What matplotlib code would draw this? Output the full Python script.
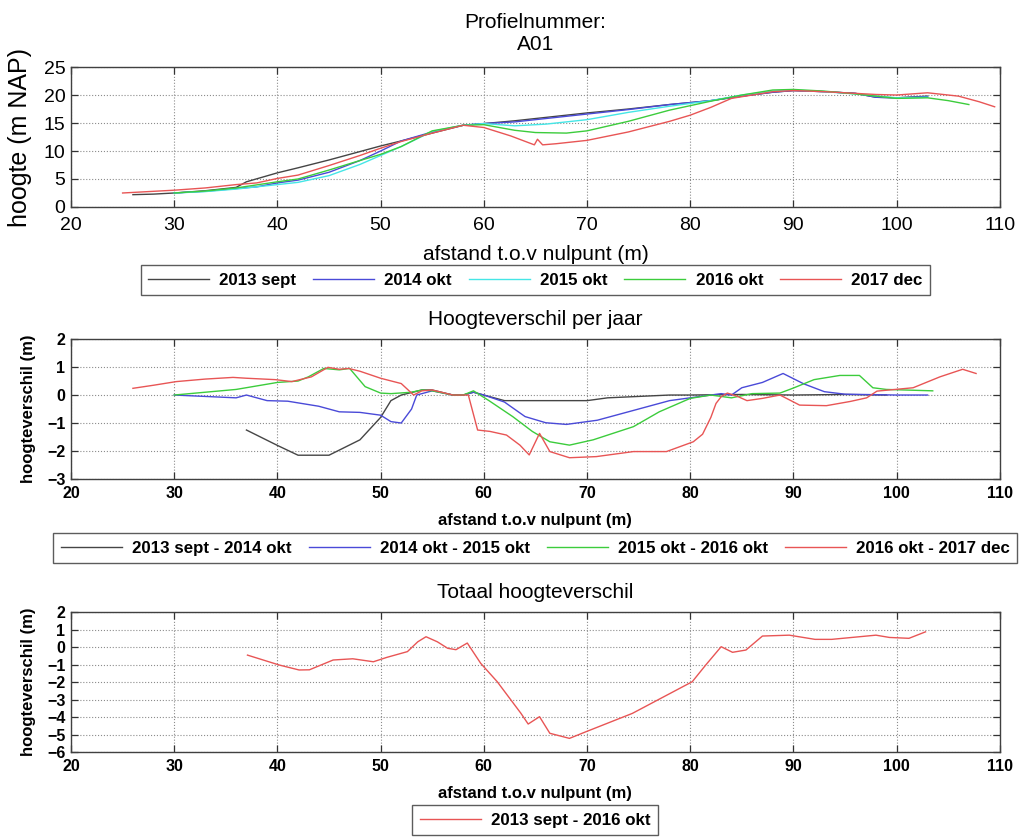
import matplotlib
matplotlib.use("Agg")
import matplotlib.pyplot as plt

plt.rcParams["font.family"] = ["Liberation Sans", "DejaVu Sans"]

# --- profile heights (m NAP) per survey ---
x_2013 = [26, 28, 30, 33, 36, 37, 40, 42, 45, 48, 50, 52, 55, 58, 60, 63, 66, 70, 74, 78,
          82, 85, 88, 90, 93, 96, 98, 100, 103]
h_2013 = [2.2, 2.3, 2.5, 2.9, 3.5, 4.5, 6.1, 7.0, 8.4, 9.9, 10.9, 11.8, 13.2, 14.6, 14.9,
          15.4, 16.0, 16.8, 17.5, 18.3, 19.0, 19.8, 20.5, 20.8, 20.6, 20.3, 19.6, 19.5, 19.8]

x_2014 = [30, 33, 36, 38, 40, 42, 45, 48, 50, 52, 55, 58, 60, 63, 66, 70, 74, 78, 82, 85,
          88, 90, 93, 96, 98, 100, 103]
h_2014 = [2.5, 2.8, 3.3, 3.6, 4.3, 4.8, 6.2, 8.3, 10.0, 11.8, 13.4, 14.6, 14.9, 15.2, 15.8,
          16.6, 17.4, 18.3, 19.0, 19.8, 20.5, 20.8, 20.6, 20.3, 19.6, 19.5, 19.7]

x_2015 = [30, 33, 36, 40, 42, 45, 48, 50, 52, 55, 58, 60, 63, 66, 70, 74, 78, 82, 85, 88,
          90, 93, 96, 100, 103]
h_2015 = [2.5, 2.75, 3.2, 4.0, 4.4, 5.6, 7.6, 9.2, 10.8, 13.5, 14.6, 14.9, 14.5, 14.8,
          15.6, 16.9, 18.0, 19.0, 20.0, 20.7, 20.9, 20.6, 20.2, 19.5, 19.6]

x_2016 = [30, 33, 36, 40, 42, 45, 48, 50, 52, 55, 58, 60, 63, 65, 68, 70, 74, 78, 82, 85,
          88, 90, 93, 96, 100, 103, 105, 107]
h_2016 = [2.5, 2.85, 3.4, 4.5, 5.0, 6.6, 8.3, 9.4, 10.8, 13.6, 14.6, 14.7, 13.7, 13.3,
          13.2, 13.6, 15.3, 17.3, 18.9, 20.0, 20.9, 21.0, 20.7, 20.2, 19.4, 19.5, 19.0, 18.3]

x_2017 = [25, 28, 30, 33, 36, 38, 40, 42, 45, 48, 50, 52, 55, 58, 60, 62.6, 64.9, 65.2,
          65.7, 67, 70, 74, 78, 80, 82, 84, 86, 88, 90, 93, 96, 98, 100, 103, 106, 108, 109.5]
h_2017 = [2.5, 2.8, 3.0, 3.4, 4.0, 4.3, 5.1, 5.7, 7.4, 9.2, 10.5, 11.7, 13.2, 14.6, 14.2,
          12.7, 11.1, 12.1, 11.1, 11.3, 11.9, 13.4, 15.3, 16.4, 17.8, 19.4, 20.0, 20.6,
          20.8, 20.6, 20.3, 20.1, 20.0, 20.4, 19.8, 18.8, 17.9]

profile_labels = ["2013 sept", "2014 okt", "2015 okt", "2016 okt", "2017 dec"]

# --- yearly height differences (m) ---
x_d1 = [37, 40, 42, 45, 48, 50, 51, 52, 54, 55, 57, 58, 59, 60, 62, 66, 70, 72, 75, 78,
        80, 85, 90, 95, 99]
d1 = [-1.25, -1.8, -2.15, -2.15, -1.6, -0.8, -0.2, 0.0, 0.18, 0.18, 0.0, 0.0, 0.1, 0.0,
      -0.2, -0.2, -0.2, -0.1, -0.05, 0.0, 0.0, 0.02, 0.0, 0.02, 0.0]

x_d2 = [30, 33, 36, 37, 39, 41, 44, 46, 48, 50, 51, 52, 53, 53.5, 55, 57, 58, 59, 60, 62,
        64, 66, 68, 71, 74, 78, 82, 83, 84, 85, 87, 89, 91, 93, 95, 100, 103]
d2 = [0.0, -0.05, -0.1, 0.0, -0.2, -0.22, -0.4, -0.6, -0.62, -0.72, -0.95, -1.0, -0.5,
      0.0, 0.15, 0.0, 0.0, 0.1, 0.0, -0.25, -0.77, -0.99, -1.05, -0.9, -0.6, -0.2, 0.0,
      0.05, 0.0, 0.26, 0.45, 0.77, 0.4, 0.12, 0.03, 0.0, 0.0]

x_d3 = [30, 33, 36, 40, 42, 43, 44.5, 46, 47, 48.5, 50, 51, 53, 54, 55, 57, 58, 59, 60.5,
        62.8, 64.7, 66.4, 68.3, 70.6, 74.5, 77, 80, 82, 84, 86, 88.7, 90, 92, 94.5, 96.4,
        97.7, 99, 103.5]
d3 = [0.0, 0.1, 0.2, 0.45, 0.5, 0.65, 0.95, 0.9, 0.95, 0.3, 0.07, 0.05, 0.1, 0.18, 0.15,
      0.0, 0.0, 0.15, -0.2, -0.77, -1.3, -1.67, -1.79, -1.6, -1.13, -0.6, -0.12, 0.0,
      -0.1, 0.05, 0.07, 0.25, 0.55, 0.7, 0.7, 0.26, 0.2, 0.15]

x_d4 = [26, 28, 30.2, 33, 35.7, 37, 39.8, 41.4, 43.3, 44.9, 46, 46.9, 48, 50, 52, 53.2,
        54, 55, 57, 58.5, 59.4, 60.6, 62.2, 63.5, 64.4, 65.4, 66.4, 68.3, 70.9, 74.5,
        77.7, 80.3, 81.2, 82, 82.5, 83, 83.6, 84.6, 85.5, 87, 88.7, 90.6, 93.2, 95.5,
        97.1, 98.1, 101.6, 104.2, 106.4, 107.7]
d4 = [0.24, 0.35, 0.48, 0.57, 0.63, 0.6, 0.55, 0.48, 0.65, 0.99, 0.92, 0.95, 0.85, 0.6,
      0.41, 0.0, 0.15, 0.18, 0.0, 0.0, -1.25, -1.3, -1.43, -1.79, -2.14, -1.37, -2.02,
      -2.24, -2.2, -2.02, -2.02, -1.67, -1.4, -0.8, -0.3, -0.06, 0.07, -0.05, -0.2, -0.12,
      0.0, -0.36, -0.38, -0.23, -0.1, 0.14, 0.26, 0.65, 0.92, 0.77]

diff_labels = ["2013 sept - 2014 okt", "2014 okt - 2015 okt",
               "2015 okt - 2016 okt", "2016 okt - 2017 dec"]

# --- total difference (m) ---
x_tot = [37.1, 40.2, 42.1, 43.1, 45.4, 47.3, 49.3, 50.6, 52.6, 53.6, 54.4, 55.5, 56.5,
         57.3, 58.4, 59.7, 61.3, 63.6, 64.3, 65.4, 66.4, 68.3, 69.9, 74.4, 80.2, 81.5,
         83.0, 84.1, 85.4, 87.0, 89.6, 92.1, 93.7, 98.0, 99.3, 101.2, 102.8]
d_tot = [-0.46, -1.03, -1.31, -1.3, -0.74, -0.67, -0.84, -0.59, -0.26, 0.3, 0.59, 0.3,
         -0.07, -0.15, 0.23, -0.93, -1.98, -3.79, -4.4, -3.98, -4.93, -5.22, -4.84, -3.79,
         -1.98, -1.03, 0.02, -0.3, -0.17, 0.63, 0.68, 0.44, 0.44, 0.68, 0.55, 0.5, 0.87]
total_label = "2013 sept - 2016 okt"

C_BLACK = "#454545"
C_BLUE = "#4a4ad8"
C_CYAN = "#45e6e6"
C_GREEN = "#3ccc3c"
C_RED = "#e85555"


def style_axes(ax, ylim, yticks, tick_size, bold, xpad=4):
    weight = "bold" if bold else "normal"
    ax.set_xlim(20, 110)
    ax.set_ylim(*ylim)
    ax.set_xticks(range(20, 111, 10))
    ax.set_yticks(yticks)
    ax.grid(True, linestyle=":", color="#8c8c8c", linewidth=0.8)
    ax.tick_params(direction="in", top=True, right=True, length=5, width=0.9,
                   color="#333333", labelsize=tick_size, pad=4)
    ax.tick_params(axis="x", pad=xpad)
    for lab in ax.get_xticklabels() + ax.get_yticklabels():
        lab.set_fontweight(weight)
    for sp in ax.spines.values():
        sp.set_color("#404040")
        sp.set_linewidth(1.0)


def add_legend(ax, ncol, y_anchor):
    leg = ax.legend(loc="upper center", bbox_to_anchor=(0.5, y_anchor), ncol=ncol,
                    frameon=True, fancybox=False, edgecolor="#333333",
                    prop={"weight": "bold", "size": 12.2}, handlelength=3.6,
                    handletextpad=0.6, columnspacing=1.0, borderpad=0.45,
                    borderaxespad=0)
    leg.get_frame().set_linewidth(1.0)
    return leg


fig = plt.figure(figsize=(10.32, 8.38), dpi=100)
ax1 = fig.add_axes([0.0688, 0.753, 0.900, 0.167])
ax2 = fig.add_axes([0.0688, 0.4284, 0.900, 0.167])
ax3 = fig.add_axes([0.0688, 0.1026, 0.900, 0.167])

# top: profiles
for xs, hs, c, lab in zip([x_2013, x_2014, x_2015, x_2016, x_2017],
                          [h_2013, h_2014, h_2015, h_2016, h_2017],
                          [C_BLACK, C_BLUE, C_CYAN, C_GREEN, C_RED], profile_labels):
    ax1.plot(xs, hs, color=c, linewidth=1.0, label=lab)
style_axes(ax1, (0, 25), range(0, 26, 5), 14, False, xpad=7)
ax1.set_title("Profielnummer:\nA01", fontsize=15, pad=12)
ax1.set_xlabel("afstand t.o.v nulpunt (m)", fontsize=15)
ax1.xaxis.set_label_coords(0.5, -0.27)
ax1.set_ylabel("hoogte (m NAP)", fontsize=18)
ax1.yaxis.set_label_coords(-0.042, 0.5)
add_legend(ax1, 5, -0.414)

# middle: yearly differences
for xs, ds, c, lab in zip([x_d1, x_d2, x_d3, x_d4], [d1, d2, d3, d4],
                          [C_BLACK, C_BLUE, C_GREEN, C_RED], diff_labels):
    ax2.plot(xs, ds, color=c, linewidth=1.0, label=lab)
style_axes(ax2, (-3, 2), range(-3, 3), 11.5, True, xpad=5)
ax2.set_title("Hoogteverschil per jaar", fontsize=15, pad=10)
ax2.set_xlabel("afstand t.o.v nulpunt (m)", fontsize=12, fontweight="bold")
ax2.xaxis.set_label_coords(0.5, -0.24)
ax2.set_ylabel("hoogteverschil (m)", fontsize=12, fontweight="bold")
ax2.yaxis.set_label_coords(-0.038, 0.5)
add_legend(ax2, 4, -0.386)

# bottom: total difference
ax3.plot(x_tot, d_tot, color=C_RED, linewidth=1.0, label=total_label)
style_axes(ax3, (-6, 2), range(-6, 3), 11.5, True, xpad=5)
ax3.set_title("Totaal hoogteverschil", fontsize=15, pad=10)
ax3.set_xlabel("afstand t.o.v nulpunt (m)", fontsize=12, fontweight="bold")
ax3.xaxis.set_label_coords(0.5, -0.24)
ax3.set_ylabel("hoogteverschil (m)", fontsize=12, fontweight="bold")
ax3.yaxis.set_label_coords(-0.038, 0.5)
add_legend(ax3, 1, -0.379)

fig.savefig("out.png", dpi=100)
